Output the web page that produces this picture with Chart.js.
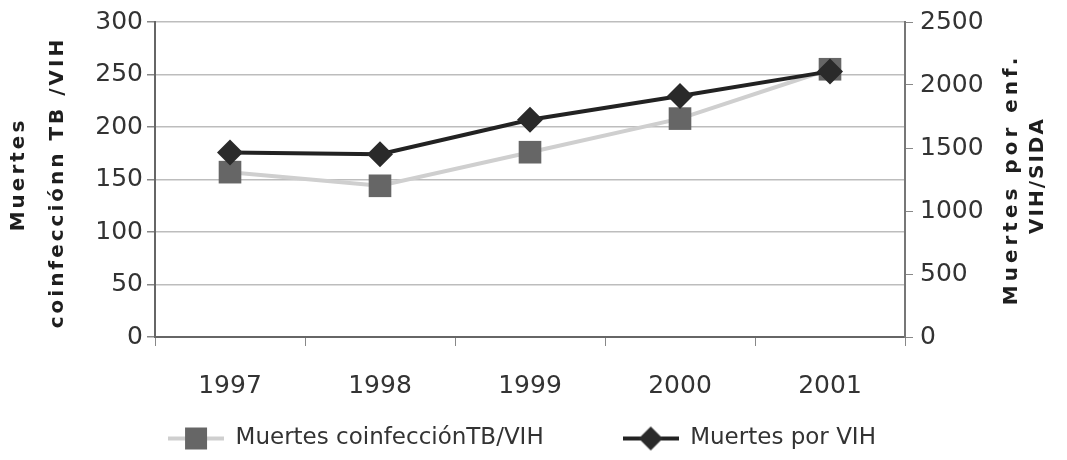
<!DOCTYPE html>
<html>
<head>
<meta charset="utf-8">
<script src="https://cdn.jsdelivr.net/npm/chart.js@4"></script>
<style>
  html, body { margin: 0; padding: 0; background: #fff; }
  #wrap { width: 1067px; height: 460px; }
</style>
</head>
<body>
<div id="wrap"><canvas id="myChart" width="1067" height="460"></canvas></div>
<script>
// data
var years = ["1997", "1998", "1999", "2000", "2001"];
var coinfeccion = [157, 144, 176, 208, 255];   // left axis
var muertesVih = [1465, 1450, 1724, 1912, 2108]; // right axis
var leftTitle = ["Muertes", "coinfecciónn TB /VIH"];
var rightTitle = ["Muertes por enf.", "VIH/SIDA"];
var legendNames = ["Muertes coinfecciónTB/VIH", "Muertes por VIH"];

var FONT = "'DejaVu Sans', sans-serif";

// little pictures for the legend: line with marker
function legendIcon(lineColor, markColor, shape) {
    var c = document.createElement("canvas");
    c.width = 56; c.height = 26;
    var g = c.getContext("2d");
    g.strokeStyle = lineColor;
    g.lineWidth = 4;
    g.beginPath(); g.moveTo(0, 13); g.lineTo(56, 13); g.stroke();
    g.fillStyle = markColor;
    if (shape == "rect") {
        g.fillRect(17, 2, 22, 22);
    } else {
        g.beginPath();
        g.moveTo(28, 1); g.lineTo(40, 13); g.lineTo(28, 25); g.lineTo(16, 13);
        g.closePath(); g.fill();
    }
    return c;
}
var iconTB = legendIcon("#cfcfcf", "#666666", "rect");
var iconVIH = legendIcon("#222222", "#2a2a2a", "diamond");

// axis titles drawn bottom-to-top on both sides
var axisTitles = {
    id: "axisTitles",
    afterDraw: function(chart) {
        var ctx = chart.ctx;
        var mid = (chart.chartArea.top + chart.chartArea.bottom) / 2;
        function draw(lines, xs, ys, spacing) {
            ctx.save();
            ctx.font = "bold 20px " + FONT;
            ctx.fillStyle = "#1e1e1e";
            ctx.textAlign = "center";
            ctx.textBaseline = "middle";
            for (var i = 0; i < lines.length; i++) {
                ctx.save();
                ctx.translate(xs[i], mid + ys[i]);
                ctx.rotate(-Math.PI / 2);
                ctx.letterSpacing = spacing[i];
                ctx.fillText(lines[i], 0, 0);
                ctx.restore();
            }
            ctx.restore();
        }
        draw(leftTitle, [19, 58], [-5, 3], ["3px", "3px"]);
        draw(rightTitle, [1012, 1038], [0, -4], ["4px", "2px"]);
    }
};

var ctx = document.getElementById("myChart").getContext("2d");

var myChart = new Chart(ctx, {
    type: "line",
    data: {
        labels: years,
        datasets: [{
            label: legendNames[0],
            data: coinfeccion,
            yAxisID: "y",
            borderColor: "#cfcfcf",
            borderWidth: 4,
            backgroundColor: "#666666",
            pointStyle: "rect",
            pointRadius: 16,
            pointBorderWidth: 0,
            pointBackgroundColor: "#666666",
            tension: 0,
            order: 1
        }, {
            label: legendNames[1],
            data: muertesVih,
            yAxisID: "y1",
            borderColor: "#222222",
            borderWidth: 4,
            backgroundColor: "#2a2a2a",
            pointStyle: "rectRot",
            pointRadius: 13,
            pointBorderWidth: 0,
            pointBackgroundColor: "#2a2a2a",
            tension: 0,
            order: 0
        }]
    },
    options: {
        responsive: false,
        animation: false,
        layout: { padding: { top: 15, left: 0, right: 0, bottom: 0 } },
        plugins: {
            tooltip: { enabled: false },
            legend: {
                position: "bottom",
                labels: {
                    usePointStyle: true,
                    pointStyleWidth: 56,
                    padding: 10,
                    color: "#333",
                    font: { family: FONT, size: 23 },
                    generateLabels: function(chart) {
                        // em spaces give the wide gap between items and pull the row a bit left
                        return [
                            { text: legendNames[0] + "\u2003\u2003\u2003", pointStyle: iconTB, datasetIndex: 0, fontColor: "#333", lineWidth: 0, strokeStyle: "transparent", fillStyle: "transparent" },
                            { text: legendNames[1] + "\u2003", pointStyle: iconVIH, datasetIndex: 1, fontColor: "#333", lineWidth: 0, strokeStyle: "transparent", fillStyle: "transparent" }
                        ];
                    }
                }
            }
        },
        scales: {
            x: {
                offset: true,
                grid: { offset: true, drawOnChartArea: false, color: "#888", tickLength: 9, lineWidth: 1 },
                border: { color: "#666", width: 2 },
                ticks: { color: "#333", padding: 25, font: { family: FONT, size: 25 } },
                afterFit: function(s) { s.height = 80; }
            },
            y: {
                position: "left",
                min: 0, max: 300,
                ticks: { stepSize: 50, color: "#333", padding: 4, font: { family: FONT, size: 25 } },
                grid: { color: "#bdbdbd", lineWidth: 1.5, tickLength: 8, tickColor: "#888" },
                border: { color: "#666", width: 2 },
                afterFit: function(s) { s.width = 155; }
            },
            y1: {
                position: "right",
                min: 0, max: 2500,
                ticks: {
                    stepSize: 500, color: "#333", padding: 7, font: { family: FONT, size: 25 },
                    callback: function(v) { return String(v); }
                },
                grid: { drawOnChartArea: false, tickLength: 8, color: "#888" },
                border: { color: "#777", width: 2 },
                afterFit: function(s) { s.width = 162; }
            }
        }
    },
    plugins: [axisTitles]
});
</script>
</body>
</html>
